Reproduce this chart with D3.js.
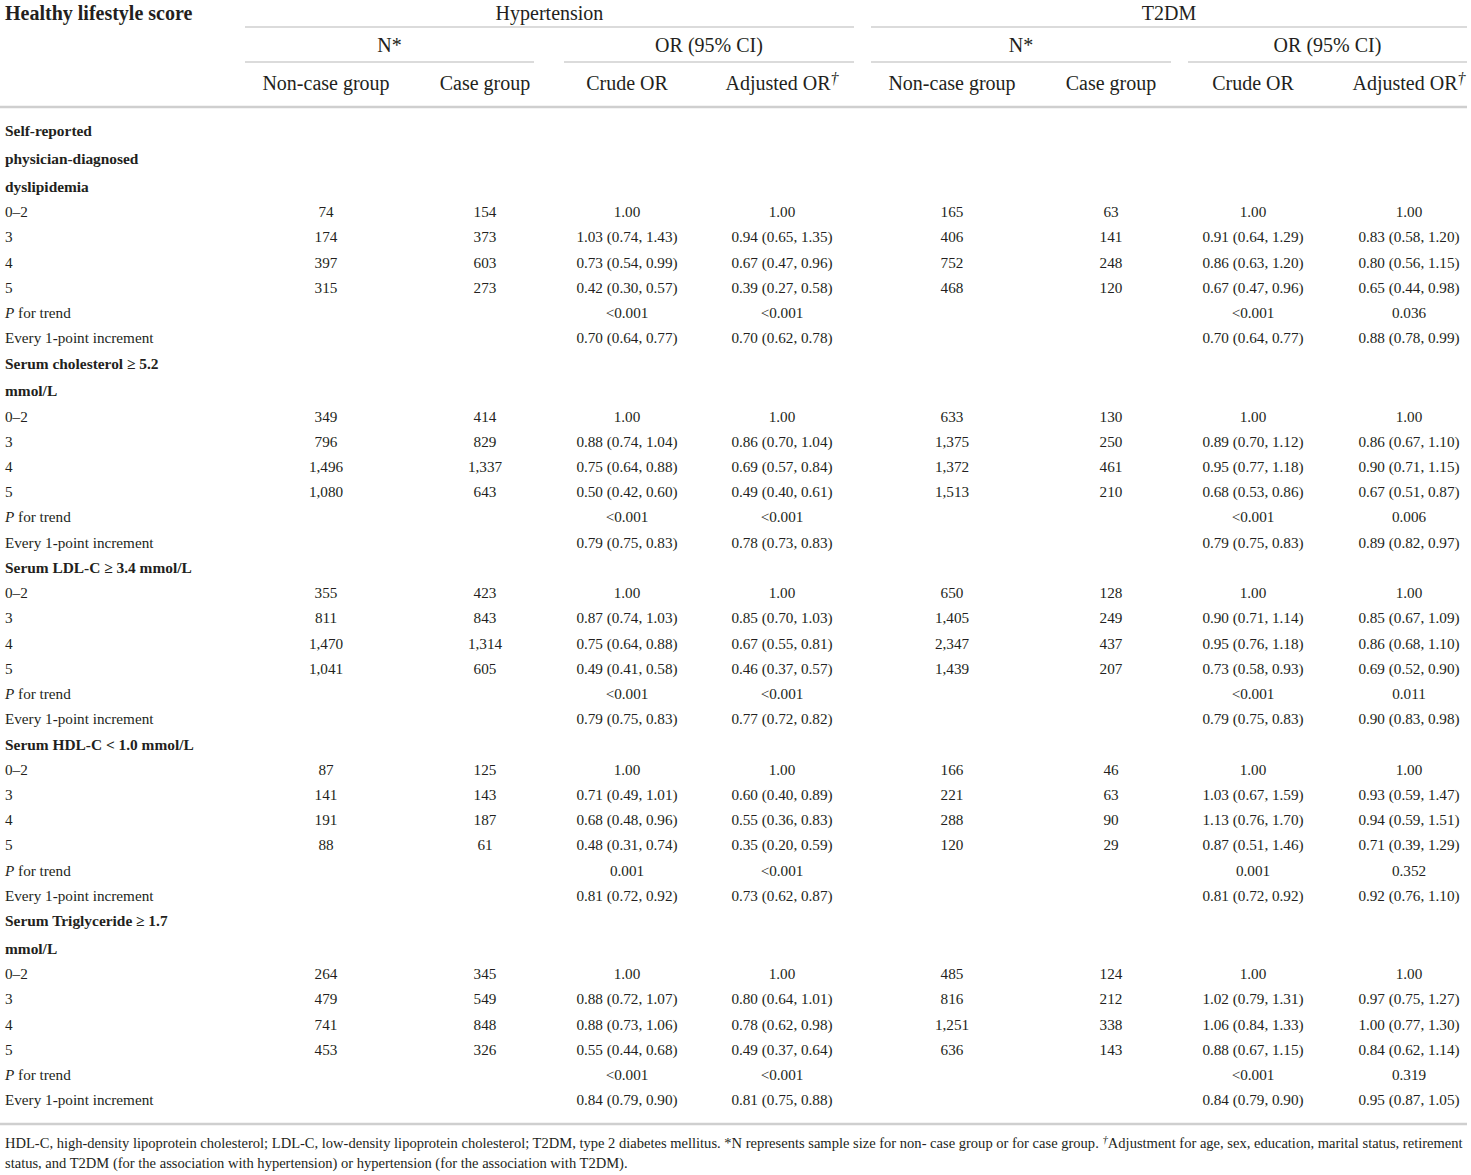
<!DOCTYPE html>
<html>
<head>
<meta charset="utf-8">
<script src="https://cdn.jsdelivr.net/npm/d3@7"></script>
<style>
  body { margin: 0; background: #fff; }
  svg { display: block; font-family: "Liberation Serif", "DejaVu Serif", serif; fill: #231f20; }
  .hdr { font-size: 20px; }
  .cell { font-size: 15.2px; }
  .sect { font-size: 15.4px; font-weight: bold; }
</style>
</head>
<body>
<svg id="table" width="1471" height="1175"></svg>
<script>
const svg = d3.select("#table");
const width = +svg.attr("width");

// Data
const outcomes = ["Hypertension", "T2DM"];
const groupHeads = ["N*", "OR (95% CI)"];
const colHeads = ["Non-case group", "Case group", "Crude OR", "Adjusted OR"];
const sectionLabels = [
  ["Self-reported", "physician-diagnosed", "dyslipidemia"],
  ["Serum cholesterol ≥ 5.2", "mmol/L"],
  ["Serum LDL-C ≥ 3.4 mmol/L"],
  ["Serum HDL-C < 1.0 mmol/L"],
  ["Serum Triglyceride ≥ 1.7", "mmol/L"]
];
const scoreLabels = ["0–2", "3", "4", "5"];

const htnNonCase = [[74, 174, 397, 315], [349, 796, 1496, 1080], [355, 811, 1470, 1041], [87, 141, 191, 88], [264, 479, 741, 453]];
const htnCase = [[154, 373, 603, 273], [414, 829, 1337, 643], [423, 843, 1314, 605], [125, 143, 187, 61], [345, 549, 848, 326]];
const t2dNonCase = [[165, 406, 752, 468], [633, 1375, 1372, 1513], [650, 1405, 2347, 1439], [166, 221, 288, 120], [485, 816, 1251, 636]];
const t2dCase = [[63, 141, 248, 120], [130, 250, 461, 210], [128, 249, 437, 207], [46, 63, 90, 29], [124, 212, 338, 143]];

// per section: score 0-2, 3, 4, 5, P for trend, every 1-point increment
const htnCrude = [
  ["1.00", "1.03 (0.74, 1.43)", "0.73 (0.54, 0.99)", "0.42 (0.30, 0.57)", "<0.001", "0.70 (0.64, 0.77)"],
  ["1.00", "0.88 (0.74, 1.04)", "0.75 (0.64, 0.88)", "0.50 (0.42, 0.60)", "<0.001", "0.79 (0.75, 0.83)"],
  ["1.00", "0.87 (0.74, 1.03)", "0.75 (0.64, 0.88)", "0.49 (0.41, 0.58)", "<0.001", "0.79 (0.75, 0.83)"],
  ["1.00", "0.71 (0.49, 1.01)", "0.68 (0.48, 0.96)", "0.48 (0.31, 0.74)", "0.001", "0.81 (0.72, 0.92)"],
  ["1.00", "0.88 (0.72, 1.07)", "0.88 (0.73, 1.06)", "0.55 (0.44, 0.68)", "<0.001", "0.84 (0.79, 0.90)"]
];
const htnAdj = [
  ["1.00", "0.94 (0.65, 1.35)", "0.67 (0.47, 0.96)", "0.39 (0.27, 0.58)", "<0.001", "0.70 (0.62, 0.78)"],
  ["1.00", "0.86 (0.70, 1.04)", "0.69 (0.57, 0.84)", "0.49 (0.40, 0.61)", "<0.001", "0.78 (0.73, 0.83)"],
  ["1.00", "0.85 (0.70, 1.03)", "0.67 (0.55, 0.81)", "0.46 (0.37, 0.57)", "<0.001", "0.77 (0.72, 0.82)"],
  ["1.00", "0.60 (0.40, 0.89)", "0.55 (0.36, 0.83)", "0.35 (0.20, 0.59)", "<0.001", "0.73 (0.62, 0.87)"],
  ["1.00", "0.80 (0.64, 1.01)", "0.78 (0.62, 0.98)", "0.49 (0.37, 0.64)", "<0.001", "0.81 (0.75, 0.88)"]
];
const t2dCrude = [
  ["1.00", "0.91 (0.64, 1.29)", "0.86 (0.63, 1.20)", "0.67 (0.47, 0.96)", "<0.001", "0.70 (0.64, 0.77)"],
  ["1.00", "0.89 (0.70, 1.12)", "0.95 (0.77, 1.18)", "0.68 (0.53, 0.86)", "<0.001", "0.79 (0.75, 0.83)"],
  ["1.00", "0.90 (0.71, 1.14)", "0.95 (0.76, 1.18)", "0.73 (0.58, 0.93)", "<0.001", "0.79 (0.75, 0.83)"],
  ["1.00", "1.03 (0.67, 1.59)", "1.13 (0.76, 1.70)", "0.87 (0.51, 1.46)", "0.001", "0.81 (0.72, 0.92)"],
  ["1.00", "1.02 (0.79, 1.31)", "1.06 (0.84, 1.33)", "0.88 (0.67, 1.15)", "<0.001", "0.84 (0.79, 0.90)"]
];
const t2dAdj = [
  ["1.00", "0.83 (0.58, 1.20)", "0.80 (0.56, 1.15)", "0.65 (0.44, 0.98)", "0.036", "0.88 (0.78, 0.99)"],
  ["1.00", "0.86 (0.67, 1.10)", "0.90 (0.71, 1.15)", "0.67 (0.51, 0.87)", "0.006", "0.89 (0.82, 0.97)"],
  ["1.00", "0.85 (0.67, 1.09)", "0.86 (0.68, 1.10)", "0.69 (0.52, 0.90)", "0.011", "0.90 (0.83, 0.98)"],
  ["1.00", "0.93 (0.59, 1.47)", "0.94 (0.59, 1.51)", "0.71 (0.39, 1.29)", "0.352", "0.92 (0.76, 1.10)"],
  ["1.00", "0.97 (0.75, 1.27)", "1.00 (0.77, 1.30)", "0.84 (0.62, 1.14)", "0.319", "0.95 (0.87, 1.05)"]
];

const footLines = [
  "HDL-C, high-density lipoprotein cholesterol; LDL-C, low-density lipoprotein cholesterol; T2DM, type 2 diabetes mellitus. *N represents sample size for non- case group or for case group. ",
  "status, and T2DM (for the association with hypertension) or hypertension (for the association with T2DM)."
];
const footDagger = "Adjustment for age, sex, education, marital status, retirement";

// Layout
const lineColor = "#cfcfcf";
const colKeys = ["hN", "hC", "hCr", "hAd", "tN", "tC", "tCr", "tAd"];
const x = d3.scaleOrdinal().domain(colKeys).range([326, 485, 627, 782, 952, 1111, 1253, 1409]);
const fmt = d3.format(",");

// build body rows
const rows = [];
sectionLabels.forEach((lab, s) => {
  lab.forEach((t, i) => rows.push({ type: "sect", label: t, cont: i > 0 }));
  for (let k = 0; k < 6; k++) {
    const r = { type: "data", label: k < 4 ? scoreLabels[k] : (k === 4 ? "trend" : "Every 1-point increment"), cont: false };
    r.cells = {
      hN: k < 4 ? fmt(htnNonCase[s][k]) : "",
      hC: k < 4 ? fmt(htnCase[s][k]) : "",
      hCr: htnCrude[s][k],
      hAd: htnAdj[s][k],
      tN: k < 4 ? fmt(t2dNonCase[s][k]) : "",
      tC: k < 4 ? fmt(t2dCase[s][k]) : "",
      tCr: t2dCrude[s][k],
      tAd: t2dAdj[s][k]
    };
    rows.push(r);
  }
});
let yy = 131;
rows.forEach((r, i) => {
  if (i > 0) yy += r.cont ? 27.8 : 25.23;
  r.y = yy;
});

// header lines
const spans = [
  { x1: 245, x2: 854, y: 27 }, { x1: 871, x2: 1467, y: 27 },
  { x1: 245, x2: 534, y: 62 }, { x1: 564, x2: 854, y: 62 },
  { x1: 871, x2: 1171, y: 62 }, { x1: 1188, x2: 1467, y: 62 }
];
svg.selectAll("line.span").data(spans).enter().append("line")
  .attr("class", "span")
  .attr("x1", d => d.x1).attr("x2", d => d.x2)
  .attr("y1", d => d.y).attr("y2", d => d.y)
  .attr("stroke", lineColor).attr("stroke-width", 1.6);

svg.selectAll("line.rule").data([107, 1124]).enter().append("line")
  .attr("class", "rule")
  .attr("x1", 0).attr("x2", 1467)
  .attr("y1", d => d).attr("y2", d => d)
  .attr("stroke", lineColor).attr("stroke-width", 2.6);

// header text
svg.append("text").attr("class", "hdr").attr("x", 5).attr("y", 13).attr("dy", "0.35em")
  .attr("font-weight", "bold").text("Healthy lifestyle score");

svg.selectAll("text.outcome").data(outcomes).enter().append("text")
  .attr("class", "hdr outcome")
  .attr("x", (d, i) => (spans[i].x1 + spans[i].x2) / 2)
  .attr("y", 13).attr("dy", "0.35em").attr("text-anchor", "middle").text(d => d);

svg.selectAll("text.group").data(spans.slice(2)).enter().append("text")
  .attr("class", "hdr group")
  .attr("x", d => (d.x1 + d.x2) / 2)
  .attr("y", 45).attr("dy", "0.35em").attr("text-anchor", "middle")
  .text((d, i) => groupHeads[i % 2]);

const colHead = svg.selectAll("text.colhead").data(colKeys).enter().append("text")
  .attr("class", "hdr colhead")
  .attr("x", d => x(d))
  .attr("y", 83).attr("dy", "0.35em").attr("text-anchor", "middle")
  .text((d, i) => colHeads[i % 4]);
colHead.filter((d, i) => i % 4 === 3).append("tspan")
  .attr("dy", "-0.4em").attr("font-size", "16px").attr("font-style", "italic").text("†");

// body
const rowG = svg.selectAll("g.row").data(rows).enter().append("g")
  .attr("class", "row")
  .attr("transform", d => `translate(0,${d.y})`);

rowG.append("text")
  .attr("class", d => d.type === "sect" ? "sect" : "cell")
  .attr("x", 5).attr("dy", "0.35em")
  .each(function (d) {
    const t = d3.select(this);
    if (d.label === "trend") {
      t.append("tspan").attr("font-style", "italic").text("P");
      t.append("tspan").text(" for trend");
    } else t.text(d.label);
  });

rowG.filter(d => d.type === "data").selectAll("text.val")
  .data(d => colKeys.map(k => ({ k, v: d.cells[k] })))
  .enter().append("text")
  .attr("class", "cell val")
  .attr("x", d => x(d.k)).attr("dy", "0.35em")
  .attr("text-anchor", "middle")
  .text(d => d.v);

// footnote: shrink the first line so it fits the table width
let noteSize = 15;
const f1 = svg.append("text").attr("x", 5).attr("y", 1143).attr("dy", "0.35em")
  .attr("font-size", noteSize + "px");
f1.append("tspan").text(footLines[0]);
f1.append("tspan").attr("font-style", "italic").attr("font-size", "0.75em").attr("dy", "-0.45em").text("†");
f1.append("tspan").attr("dy", "0.34em").text(footDagger);
const len = f1.node().getComputedTextLength();
if (len > 1459) {
  noteSize = noteSize * 1459 / len;
  f1.attr("font-size", noteSize + "px");
}

svg.append("text").attr("x", 5).attr("y", 1163).attr("dy", "0.35em")
  .attr("font-size", noteSize + "px")
  .text(footLines[1]);
</script>
</body>
</html>
